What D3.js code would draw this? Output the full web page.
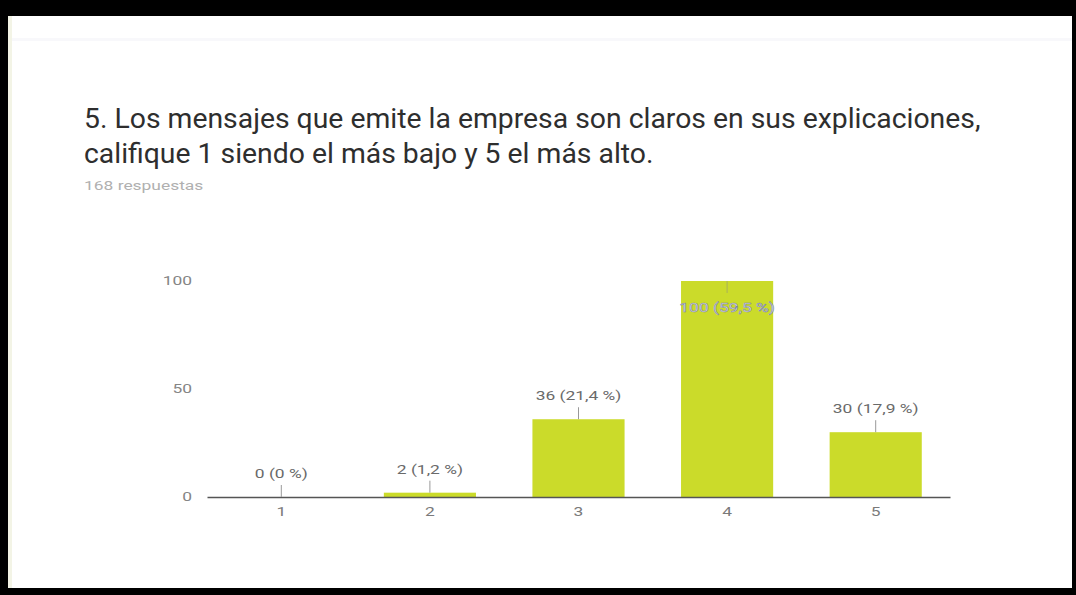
<!DOCTYPE html>
<html>
<head>
<meta charset="utf-8">
<script src="https://cdn.jsdelivr.net/npm/d3@7"></script>
<style>
  html, body { margin: 0; padding: 0; background: #000; }
  svg { display: block; }
</style>
</head>
<body>
<svg id="chart" width="1076" height="595"></svg>
<script>
// Survey answers: rating 1..5 and number of responses
const categories = ["1", "2", "3", "4", "5"];
const counts = [0, 2, 36, 100, 30];
const percents = ["0 %", "1,2 %", "21,4 %", "59,5 %", "17,9 %"];
const yTicks = [0, 50, 100];
const titleLines = [
  "5. Los mensajes que emite la empresa son claros en sus explicaciones,",
  "califique 1 siendo el más bajo y 5 el más alto."
];
const subtitle = "168 respuestas";

const svg = d3.select("#chart");
const W = 1076, H = 595;
const font = "Roboto, 'Noto Sans', sans-serif";
// Small texts are drawn slightly widened
const WIDEN = 1.45;
function widen(sel, k) {
  sel.each(function () {
    const len = this.getComputedTextLength();
    d3.select(this).attr("textLength", len * k).attr("lengthAdjust", "spacingAndGlyphs");
  });
}

// Black outer frame with white panel
svg.append("rect").attr("width", W).attr("height", H).attr("fill", "#000");
svg.append("rect").attr("x", 8).attr("y", 16).attr("width", 1064).attr("height", 572).attr("fill", "#fff");
svg.append("rect").attr("x", 8).attr("y", 16).attr("width", 4).attr("height", 572).attr("fill", "#f3f4e6");
svg.append("rect").attr("x", 12).attr("y", 38).attr("width", 1060).attr("height", 3).attr("fill", "#f8f8fb");

// Title block
svg.selectAll("text.title")
  .data(titleLines)
  .join("text")
  .attr("class", "title")
  .attr("x", 84)
  .attr("y", (d, i) => 128 + i * 35)
  .attr("font-family", font)
  .attr("font-size", 27)
  .attr("fill", "#2e2e2e")
  .text(d => d)
  .call(widen, 1.05);

svg.append("text")
  .attr("x", 84).attr("y", 190)
  .attr("font-family", font)
  .attr("font-size", 12)
  .attr("fill", "#b0b0b0")
  .text(subtitle)
  .call(widen, WIDEN);

// Scales
const x = d3.scaleBand().domain(categories).range([207, 950]).paddingInner(0.38).paddingOuter(0.19);
const y = d3.scaleLinear().domain([0, 100]).range([497, 281]);

// Y axis labels (no line)
svg.selectAll("text.ytick")
  .data(yTicks)
  .join("text")
  .attr("class", "ytick")
  .attr("x", 192)
  .attr("y", d => y(d) + 4)
  .attr("text-anchor", "end")
  .attr("font-family", font)
  .attr("font-size", 12)
  .attr("fill", "#858585")
  .text(d => d)
  .call(widen, WIDEN);

// Bars
svg.selectAll("rect.bar")
  .data(counts)
  .join("rect")
  .attr("class", "bar")
  .attr("x", (d, i) => x(categories[i]))
  .attr("width", x.bandwidth())
  .attr("y", d => y(d))
  .attr("height", d => y(0) - y(d))
  .attr("fill", "#cbdb2a");

// X axis
const xAxis = svg.append("g")
  .attr("transform", `translate(0,${y(0)})`)
  .call(d3.axisBottom(x).tickSize(0).tickPadding(10));
xAxis.select(".domain").attr("stroke", "#555").attr("stroke-width", 1.5);
xAxis.selectAll("text")
  .attr("font-family", font)
  .attr("font-size", 12)
  .attr("fill", "#7a7a7a")
  .call(widen, WIDEN);

// Value labels with small leader lines
const labels = svg.append("g");
counts.forEach((v, i) => {
  const cx = x(categories[i]) + x.bandwidth() / 2;
  const inside = v >= 90;
  const top = y(v);
  const lineTop = inside ? top + 12 : top - 12;
  labels.append("line")
    .attr("x1", cx).attr("x2", cx)
    .attr("y1", top).attr("y2", lineTop)
    .attr("stroke", inside ? "#a9b35a" : "#999")
    .attr("stroke-width", 1);
  labels.append("text")
    .attr("x", cx)
    .attr("y", inside ? top + 31 : top - 19)
    .attr("text-anchor", "middle")
    .attr("font-family", font)
    .attr("font-size", 12)
    .attr("fill", inside ? "#eef0f8" : "#6a6a6a")
    .attr("stroke", inside ? "#7d84a6" : "none")
    .attr("stroke-width", inside ? 0.5 : 0)
    .text(`${v} (${percents[i]})`)
    .call(widen, WIDEN);
});
</script>
</body>
</html>
